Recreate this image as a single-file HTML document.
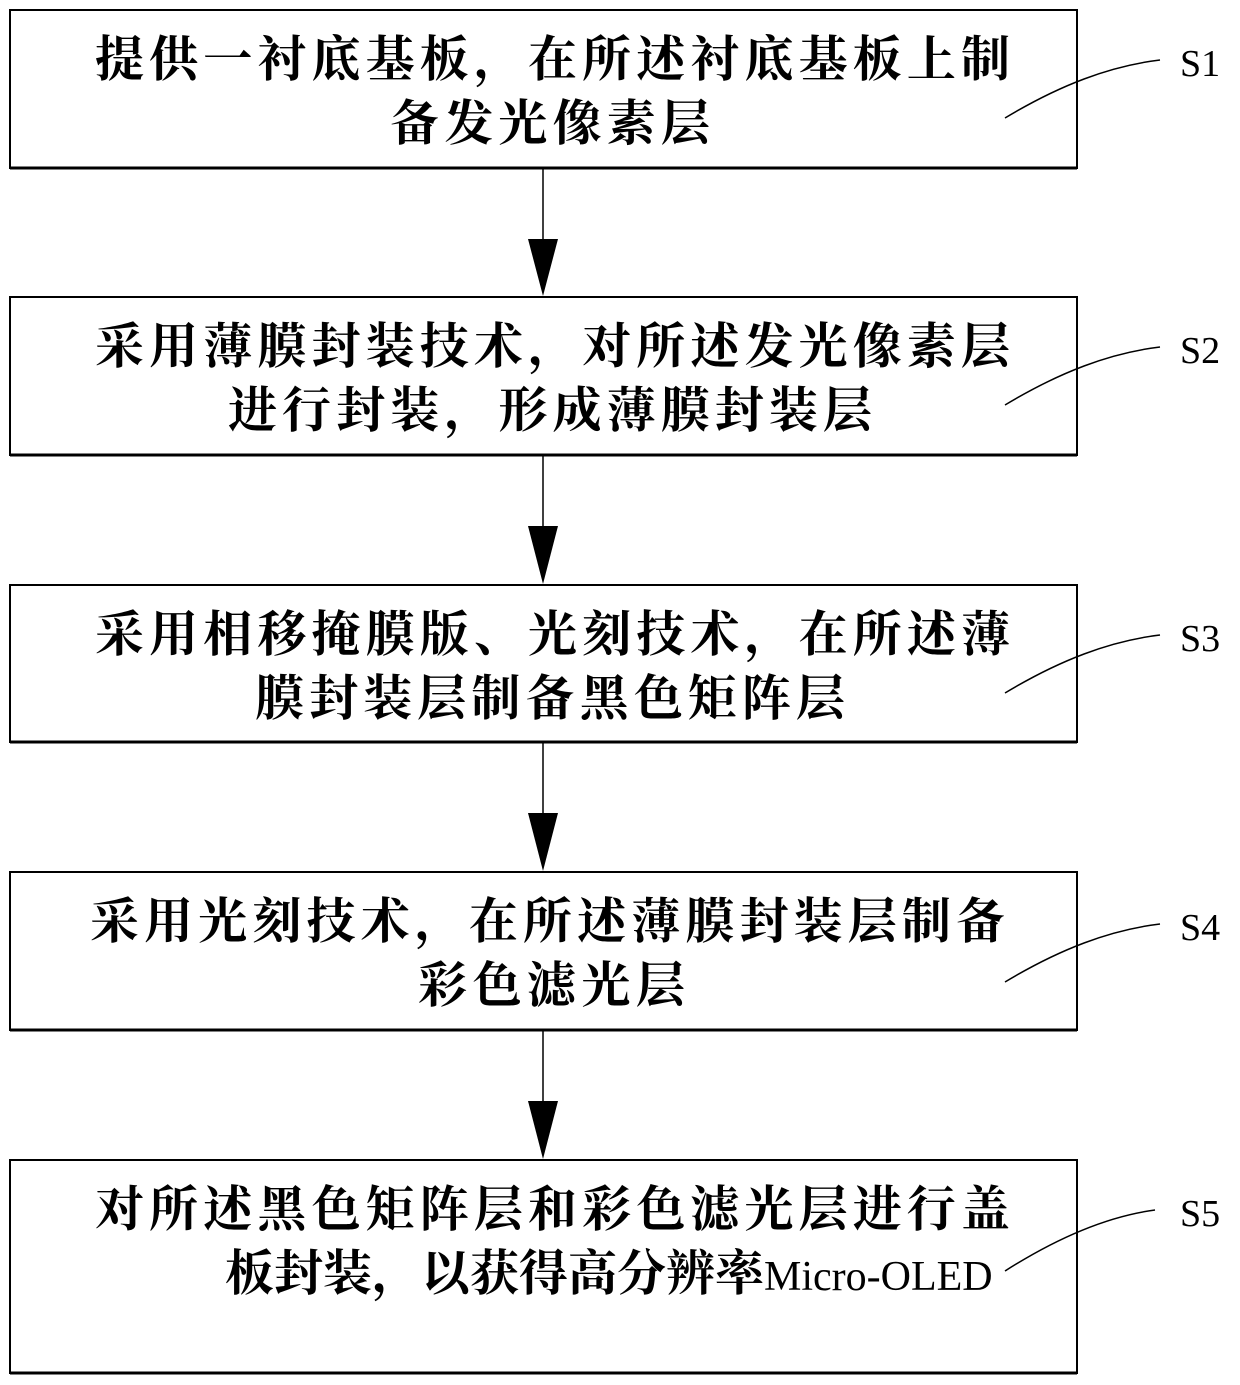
<!DOCTYPE html>
<html><head><meta charset="utf-8"><style>
html,body{margin:0;padding:0;background:#fff;}
svg{display:block;}
text{font-family:"Liberation Serif","Noto Serif CJK SC",serif;fill:#000;}
.t{font-size:49px;font-weight:bold;}
.s{font-size:38px;}
</style></head><body>
<svg width="1240" height="1385" viewBox="0 0 1240 1385">
<g fill="none" stroke="#000">
<rect x="10" y="10" width="1067" height="158" stroke-width="2"/>
<rect x="10" y="297" width="1067" height="158" stroke-width="2"/>
<rect x="10" y="585" width="1067" height="157" stroke-width="2"/>
<rect x="10" y="872" width="1067" height="158" stroke-width="2"/>
<rect x="10" y="1160" width="1067" height="213" stroke-width="2"/>
<line x1="10" y1="168" x2="1077" y2="168" stroke-width="3"/>
<line x1="10" y1="455" x2="1077" y2="455" stroke-width="3"/>
<line x1="10" y1="742" x2="1077" y2="742" stroke-width="3"/>
<line x1="10" y1="1030" x2="1077" y2="1030" stroke-width="3"/>
<line x1="10" y1="1373" x2="1077" y2="1373" stroke-width="3"/>
<g stroke-width="1.5">
<line x1="543" y1="168" x2="543" y2="240"/>
<line x1="543" y1="455" x2="543" y2="527"/>
<line x1="543" y1="742" x2="543" y2="814"/>
<line x1="543" y1="1030" x2="543" y2="1102"/>
<path d="M1005,118 C1060,85 1110,66 1160,60"/>
<path d="M1005,405 C1060,372 1110,353 1160,347"/>
<path d="M1005,693 C1060,660 1110,641 1160,635"/>
<path d="M1005,982 C1060,949 1110,930 1160,924"/>
<path d="M1005,1271 C1060,1236 1110,1216 1155,1210"/>
</g>
</g>
<g fill="#000">
<polygon points="528,239 558,239 543,296"/>
<polygon points="528,526 558,526 543,584"/>
<polygon points="528,813 558,813 543,871"/>
<polygon points="528,1101 558,1101 543,1159"/>
</g>
<g class="t">
<text x="95" y="76" textLength="915" lengthAdjust="spacing">提供一衬底基板，在所述衬底基板上制</text>
<text x="390" y="140" textLength="320" lengthAdjust="spacing">备发光像素层</text>
<text x="95" y="363" textLength="915" lengthAdjust="spacing">采用薄膜封装技术，对所述发光像素层</text>
<text x="228" y="427" textLength="644" lengthAdjust="spacing">进行封装，形成薄膜封装层</text>
<text x="95" y="651" textLength="915" lengthAdjust="spacing">采用相移掩膜版、光刻技术，在所述薄</text>
<text x="255" y="715" textLength="590" lengthAdjust="spacing">膜封装层制备黑色矩阵层</text>
<text x="90" y="938" textLength="915" lengthAdjust="spacing">采用光刻技术，在所述薄膜封装层制备</text>
<text x="418" y="1002" textLength="267" lengthAdjust="spacing">彩色滤光层</text>
<text x="95" y="1226" textLength="915" lengthAdjust="spacing">对所述黑色矩阵层和彩色滤光层进行盖</text>
<text x="225" y="1290">板封装，以获得高分辨率<tspan font-weight="normal" font-size="42">Micro-OLED</tspan></text>
</g>
<g class="s">
<text x="1180" y="76">S1</text>
<text x="1180" y="363">S2</text>
<text x="1180" y="651">S3</text>
<text x="1180" y="940">S4</text>
<text x="1180" y="1226">S5</text>
</g>
</svg>
</body></html>
